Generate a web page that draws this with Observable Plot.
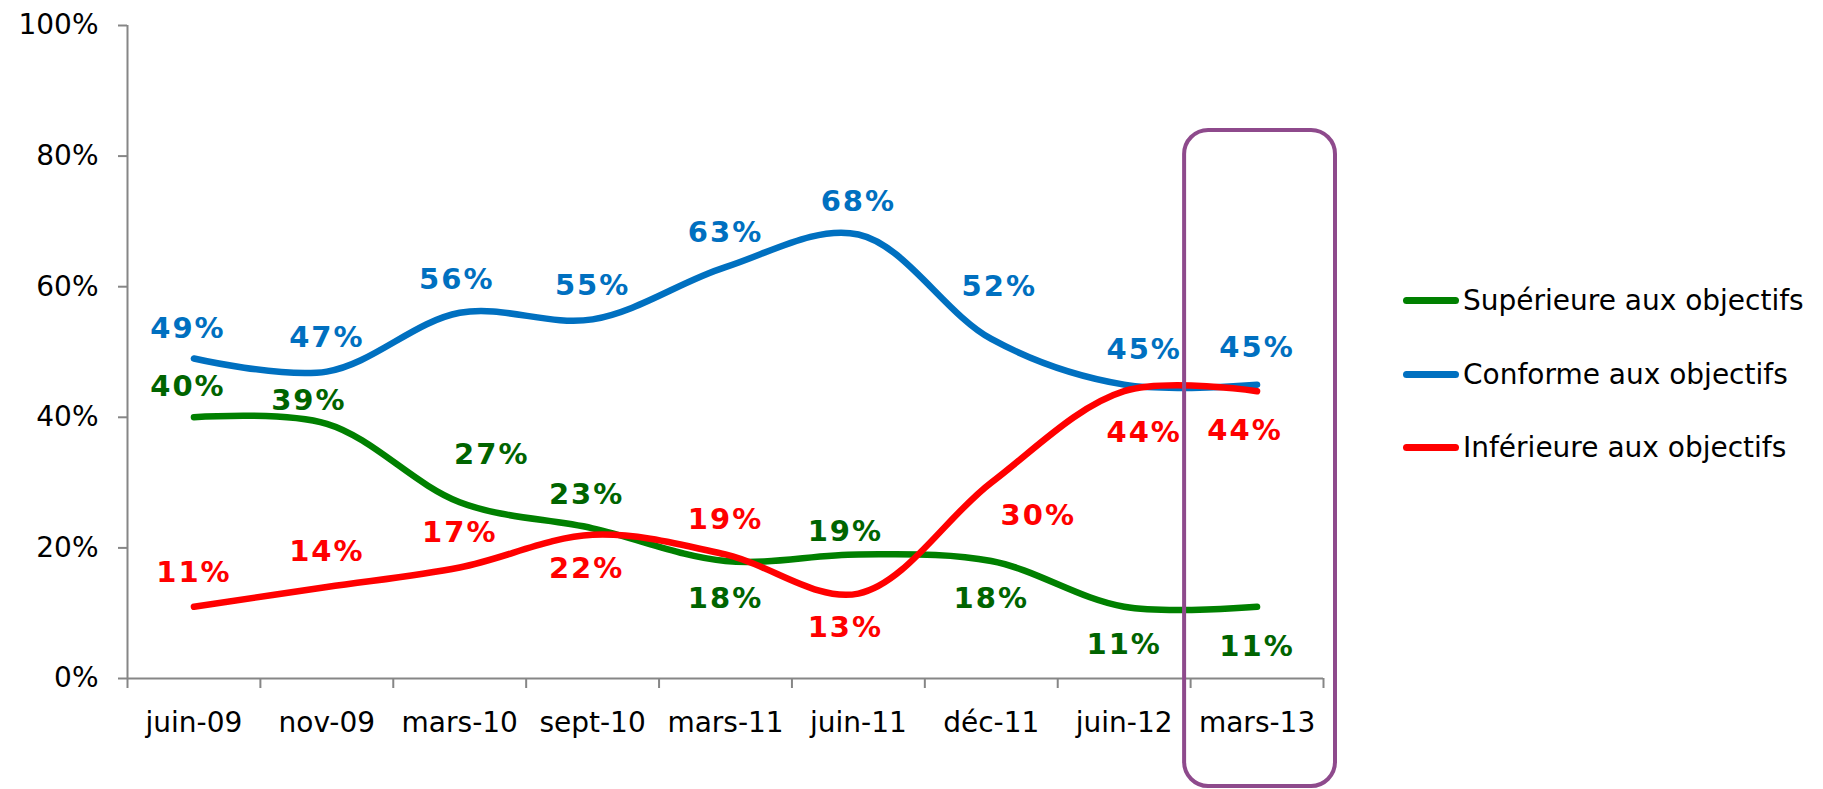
<!DOCTYPE html>
<html>
<head>
<meta charset="utf-8">
<script src="https://cdn.jsdelivr.net/npm/d3@7"></script>
<script src="https://cdn.jsdelivr.net/npm/@observablehq/plot@0.6"></script>
<style>
  html, body { margin: 0; padding: 0; background: #fff; }
  #wrap { position: relative; width: 1823px; height: 789px; overflow: hidden; font-family: "DejaVu Sans", Verdana, sans-serif; }
  #legend { position: absolute; left: 1403px; top: 0; }
  .item { position: absolute; left: 0; white-space: nowrap; display: flex; align-items: center; height: 40px; }
  .sw { width: 56px; height: 7px; border-radius: 4px; margin-right: 4px; }
  .lab { font-size: 28px; color: #000; }
  svg g[font-weight="bold"] { letter-spacing: 2px; }
</style>
</head>
<body>
<div id="wrap"><div id="chart"></div><div id="legend"></div></div>
<script>
// ---- data ----
const categories = ["juin-09", "nov-09", "mars-10", "sept-10", "mars-11", "juin-11", "déc-11", "juin-12", "mars-13"];
const superieure = [40, 39, 27, 23, 18, 19, 18, 11, 11];
const conforme   = [49, 47, 56, 55, 63, 68, 52, 45, 45];
const inferieure = [11, 14, 17, 22, 19, 13, 30, 44, 44];
const seriesNames = ["Supérieure aux objectifs", "Conforme aux objectifs", "Inférieure aux objectifs"];
const yTicks = [0, 20, 40, 60, 80, 100];
const highlighted = "mars-13";

// ---- label placement (pixel offsets from each point) ----
const labelDx = {
  sup: [-6, -18, 32, -6, 0, -13, 0, 0, 0],
  con: [-6, 0, -3, 0, 0, 0, 8, 20, 0],
  inf: [0, 0, 0, -6, 0, -13, 47, 20, -12]
};
const labelDy = {
  sup: [-31, -23, -47, -34, 38, -23, 38, 38, 40],
  con: [-30, -34, -33, -34, -34, -33, -52, -35, -37],
  inf: [-34, -35, -35, 34, -35, 34, 33, 42, 40]
};

const series = [
  {key: "sup", name: seriesNames[0], values: superieure, line: "#008000", label: "#006400"},
  {key: "con", name: seriesNames[1], values: conforme,   line: "#0070C0", label: "#0070C0"},
  {key: "inf", name: seriesNames[2], values: inferieure, line: "#FF0000", label: "#FF0000"}
];

const rows = series.flatMap(s => s.values.map((v, i) => ({series: s.name, key: s.key, i, value: v})));
const boundaries = d3.range(categories.length + 1).map(k => k - 0.5);
const hi = categories.indexOf(highlighted);

const axisGray = "#868686";
const labelFont = "DejaVu Sans, Verdana, sans-serif";

const marks = [
  Plot.ruleX([-0.5], {stroke: axisGray, strokeWidth: 2}),
  Plot.ruleY([0], {stroke: axisGray, strokeWidth: 2}),
  Plot.axisY({ticks: yTicks, tickFormat: d => d + "%", tickSize: 9, tickPadding: 20, stroke: axisGray, fill: "#000", fontSize: 28, strokeWidth: 2, label: null}),
  Plot.axisX({ticks: boundaries, tickSize: 10, tickFormat: () => "", stroke: axisGray, strokeWidth: 2, label: null}),
  Plot.axisX({ticks: d3.range(categories.length), tickFormat: i => categories[i], tickSize: 0, tickPadding: 34, fill: "#000", fontSize: 28, label: null}),
];
for (const s of series) {
  marks.push(Plot.line(rows.filter(r => r.key === s.key), {
    x: "i", y: "value", stroke: s.line, strokeWidth: 6.5, curve: "catmull-rom", strokeLinecap: "round"
  }));
}
for (const s of series) {
  for (const r of rows.filter(r => r.key === s.key)) {
    marks.push(Plot.text([r], {
      x: "i", y: "value", text: d => d.value + "%",
      dx: labelDx[s.key][r.i], dy: labelDy[s.key][r.i],
      fill: s.label, fontSize: 29, fontWeight: "bold", fontFamily: labelFont
    }));
  }
}
marks.push(Plot.rect([hi], {
  x1: d => d - 0.5, x2: d => d + 0.5, y1: 0, y2: 100,
  insetLeft: -6, insetRight: -12, insetTop: 105, insetBottom: -108,
  rx: 24, fill: "none", stroke: "#8E4A8C", strokeWidth: 4
}));

const chart = Plot.plot({
  width: 1823,
  height: 789,
  marginLeft: 127,
  marginRight: 500,
  marginTop: 25,
  marginBottom: 111,
  style: {fontFamily: labelFont, background: "#fff", overflow: "visible"},
  x: {type: "linear", domain: [-0.5, categories.length - 0.5]},
  y: {domain: [0, 100]},
  marks
});
document.getElementById("chart").appendChild(chart);

// ---- legend ----
const legend = document.getElementById("legend");
const legendTops = [300, 374, 447];
series.forEach((s, k) => {
  const it = document.createElement("div");
  it.className = "item";
  it.style.top = (legendTops[k] - 20) + "px";
  it.innerHTML = `<div class="sw" style="background:${s.line}"></div><div class="lab">${s.name}</div>`;
  legend.appendChild(it);
});
</script>
</body>
</html>
